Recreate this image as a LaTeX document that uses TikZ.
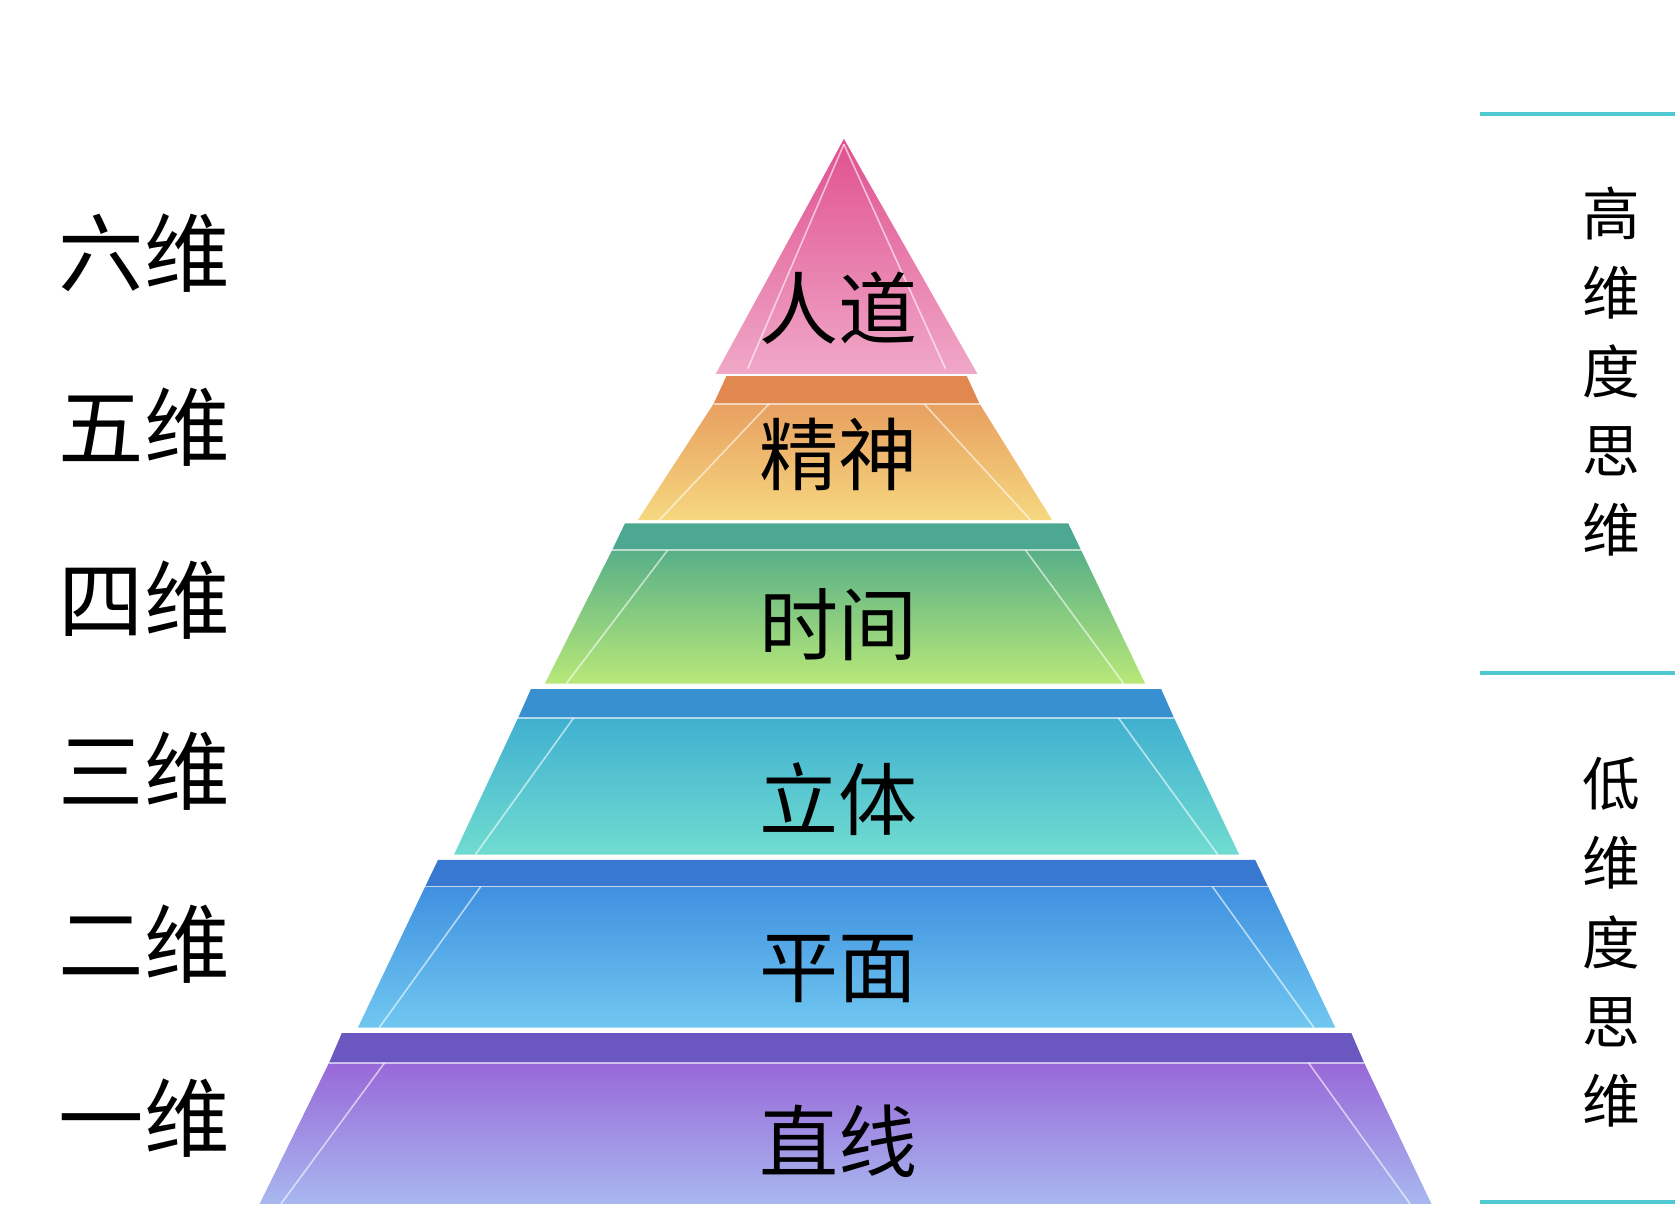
\documentclass[tikz,border=0pt]{standalone}
\usepackage{fontspec}
\setmainfont{Noto Sans CJK SC}
\definecolor{p1}{HTML}{E0508F}\definecolor{p2}{HTML}{F0A8C8}
\definecolor{o0}{HTML}{E08850}\definecolor{o1}{HTML}{E8A060}\definecolor{o2}{HTML}{F6D880}
\definecolor{g0}{HTML}{4CA890}\definecolor{g1}{HTML}{58B088}\definecolor{g2}{HTML}{B8E878}
\definecolor{t0}{HTML}{3890D0}\definecolor{t1}{HTML}{40B0D0}\definecolor{t2}{HTML}{70DCD0}
\definecolor{b0}{HTML}{3878D0}\definecolor{b1}{HTML}{4090E0}\definecolor{b2}{HTML}{70C8F0}
\definecolor{v0}{HTML}{6A58C0}\definecolor{v1}{HTML}{9868D8}\definecolor{v2}{HTML}{A8B8F0}
\definecolor{sepc}{HTML}{50C8D0}
\tikzset{
 lab/.style={font=\fontsize{80}{86}\selectfont, inner sep=0pt},
 ctr/.style={font=\fontsize{74}{80}\selectfont, inner sep=0pt},
 vlab/.style={font=\fontsize{54}{74}\selectfont, inner sep=0pt, align=center},
 sep/.style={draw=sepc, line width=4pt},
 edge/.style={draw=white, opacity=0.6, line width=1.5pt}
}
\begin{document}
\begin{tikzpicture}[x=1pt,y=-1pt]
\useasboundingbox (0,0) rectangle (1568,1146);
\shade[top color=p1, bottom color=p2] (790,130) -- (915,350) -- (670,350) -- cycle;
\draw[edge] (790,135) -- (700,345);
\draw[edge] (790,135) -- (885,345);
\foreach \a/\b/\c/\d/\e/\f/\g/\cz/\cx/\cy in {
 352/378/680/905/487/597/985/o0/o1/o2,
 490/515/585/1000/640/510/1072/g0/g1/g2,
 645/672/497/1087/800/425/1160/t0/t1/t2,
 805/830/410/1175/962/335/1250/b0/b1/b2,
 967/995/320/1265/1127/243/1340/v0/v1/v2}{
 \fill[\cz] (\c,\a) -- (\d,\a) -- (\d+12,\b) -- (\c-12,\b) -- cycle;
 \shade[top color=\cx, bottom color=\cy] (\c-12,\b) -- (\d+12,\b) -- (\g,\e) -- (\f,\e) -- cycle;
 \draw[edge] (\c-12,\b) -- (\d+12,\b);
 \draw[edge] (\c+40,\b) -- (\f+20,\e);
 \draw[edge] (\d-40,\b) -- (\g-20,\e);
}
\node[ctr] (c6) at (785,288) {人道};
\node[ctr] (c5) at (785,425) {精神};
\node[ctr] (c4) at (785,585) {时间};
\node[ctr] (c3) at (785,748) {立体};
\node[ctr] (c2) at (785,907) {平面};
\node[ctr] (c1) at (785,1068) {直线};
\node[lab] (l6) at (135,237) {六维};
\node[lab] (l5) at (135,400) {五维};
\node[lab] (l4) at (135,562) {四维};
\node[lab] (l3) at (135,722) {三维};
\node[lab] (l2) at (135,884) {二维};
\node[lab] (l1) at (135,1047) {一维};
\coordinate (a1) at (1385,107); \coordinate (a2) at (1568,107);
\coordinate (b1) at (1385,630); \coordinate (b2) at (1568,630);
\coordinate (d1) at (1385,1125); \coordinate (d2) at (1568,1125);
\draw[sep] (a1) -- (a2); \draw[sep] (b1) -- (b2); \draw[sep] (d1) -- (d2);
\node[vlab] (h) at (1508,348) {高\\维\\度\\思\\维};
\node[vlab] (lo) at (1508,882) {低\\维\\度\\思\\维};
\end{tikzpicture}
\end{document}
